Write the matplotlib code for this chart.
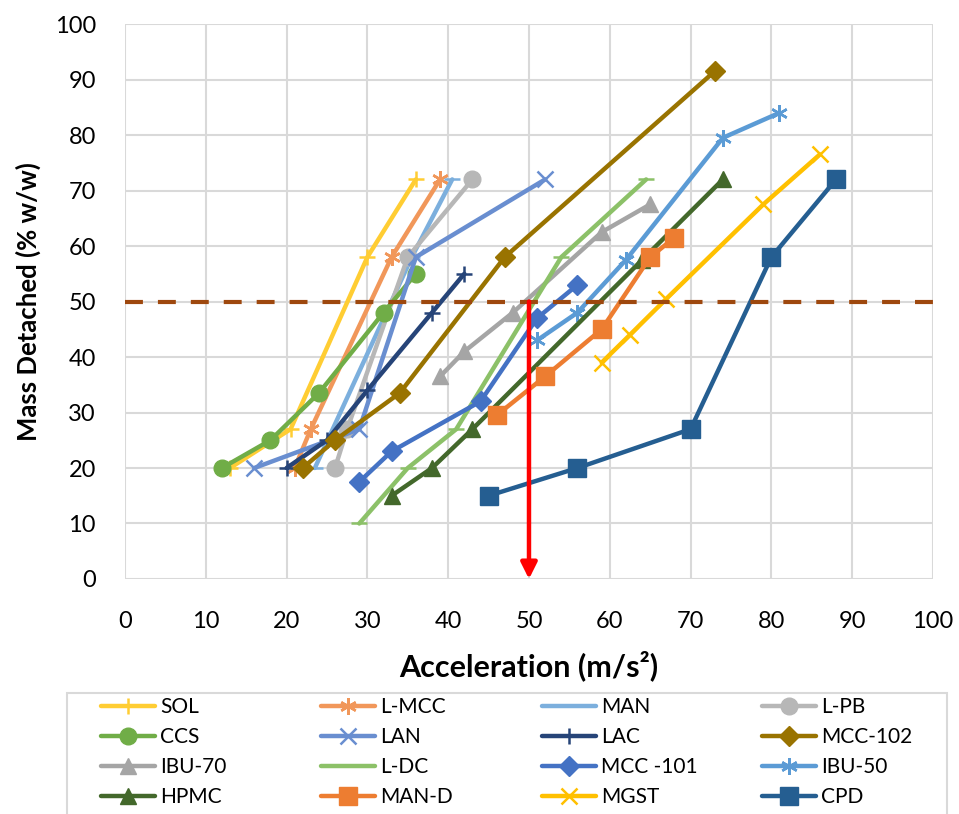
import matplotlib
matplotlib.use('Agg')
import matplotlib.pyplot as plt
from matplotlib.patches import Rectangle

# series (acceleration m/s2, mass detached % w/w)
names = ['SOL', 'L-MCC', 'MAN', 'L-PB',
         'CCS', 'LAN', 'LAC', 'MCC-102',
         'IBU-70', 'L-DC', 'MCC -101', 'IBU-50',
         'HPMC', 'MAN-D', 'MGST', 'CPD']

sol_x = [13, 20.5, 30, 36]
sol_y = [20, 27, 58, 72]
lmcc_x = [21, 23, 33, 39]
lmcc_y = [20, 27, 58, 72]
man_x = [23.5, 35.5, 40.5]
man_y = [20, 58, 72]
lpb_x = [26, 27.5, 35, 43]
lpb_y = [20, 27, 58, 72]
ccs_x = [12, 18, 24, 32, 36]
ccs_y = [20, 25, 33.5, 48, 55]
lan_x = [16, 29, 36, 52]
lan_y = [20, 27, 58, 72]
lac_x = [20, 25, 30, 38, 42]
lac_y = [20, 25, 34, 48, 55]
mcc102_x = [22, 26, 34, 47, 73]
mcc102_y = [20, 25, 33.5, 58, 91.5]
ibu70_x = [39, 42, 48, 59, 65]
ibu70_y = [36.5, 41, 48, 62.5, 67.5]
ldc_x = [29, 35, 41, 54, 64.5]
ldc_y = [10, 20, 27, 58, 72]
mcc101_x = [29, 33, 44, 51, 56]
mcc101_y = [17.5, 23, 32, 47, 53]
ibu50_x = [51, 56, 62, 74, 81]
ibu50_y = [43, 48, 57.5, 79.5, 84]
hpmc_x = [33, 38, 43, 64, 74]
hpmc_y = [15, 20, 27, 57.5, 72]
mand_x = [46, 52, 59, 65, 68]
mand_y = [29.5, 36.5, 45, 58, 61.5]
mgst_x = [59, 62.5, 67, 79, 86]
mgst_y = [39, 44, 50.5, 67.5, 76.5]
cpd_x = [45, 56, 70, 80, 88]
cpd_y = [15, 20, 27, 58, 72]

xs = [sol_x, lmcc_x, man_x, lpb_x, ccs_x, lan_x, lac_x, mcc102_x,
      ibu70_x, ldc_x, mcc101_x, ibu50_x, hpmc_x, mand_x, mgst_x, cpd_x]
ys = [sol_y, lmcc_y, man_y, lpb_y, ccs_y, lan_y, lac_y, mcc102_y,
      ibu70_y, ldc_y, mcc101_y, ibu50_y, hpmc_y, mand_y, mgst_y, cpd_y]

colors = ['#FFCD33', '#F1975A', '#7CAFDD', '#B7B7B7',
          '#70AD47', '#698ED0', '#264478', '#997300',
          '#A5A5A5', '#8CC168', '#4472C4', '#5B9BD5',
          '#43682B', '#ED7D31', '#FFC000', '#255E91']
star = (6, 2, 0)
markers = ['+', star, '_', 'o',
           'o', 'x', '+', 'D',
           '^', '_', 'D', star,
           '^', 's', 'x', 's']
sizes = [12, 12, 11, 12,
         12, 11, 11, 10,
         12, 11, 10, 12,
         12, 12.5, 12, 12.5]

threshold = 50
arrow_x = 50

plt.rcParams['font.family'] = ['Lato', 'DejaVu Sans']

fig = plt.figure(figsize=(9.59, 8.14), dpi=100)
ax = fig.add_axes([0.1303, 0.2887, 0.8426, 0.6818])

handles = []
for name, x, y, c, m, s in zip(names, xs, ys, colors, markers, sizes):
    filled = m in ('o', 'D', '^', 's')
    h, = ax.plot(x, y, color=c, lw=3.2, marker=m, markersize=s,
                 markeredgewidth=1.0 if filled else 1.8,
                 markerfacecolor=c, markeredgecolor=c, label=name,
                 solid_capstyle='round')
    handles.append(h)

ax.axhline(threshold, color='#9E480E', lw=3, ls=(0, (4.3, 3.6)), zorder=5)
ax.annotate('', xy=(arrow_x, 0), xytext=(arrow_x, threshold),
            arrowprops=dict(arrowstyle='-|>', color='#FF0000', lw=3.2,
                            mutation_scale=24, shrinkA=0, shrinkB=0),
            zorder=6)

ax.set_xlim(0, 100)
ax.set_ylim(0, 100)
ax.set_xticks(range(0, 101, 10))
ax.set_yticks(range(0, 101, 10))
ax.tick_params(length=0, labelsize=17, colors='black')
ax.tick_params(axis='y', pad=21)
ax.tick_params(axis='x', pad=23)
ax.grid(True, color='#D9D9D9', lw=1.5)
ax.set_axisbelow(True)
for sp in ax.spines.values():
    sp.set_visible(False)

ax.set_xlabel('Acceleration (m/s²)', fontsize=22, fontweight='bold', labelpad=13)
ax.set_ylabel('Mass Detached (% w/w)', fontsize=18.5, fontweight='bold', labelpad=10)

# legend: one column per legend so the column starts match the reference
col_x = [101, 321, 542, 762]
for c in range(4):
    idx = [r * 4 + c for r in range(4)]
    leg = fig.legend([handles[i] for i in idx], [names[i] for i in idx],
                     loc='upper left', bbox_to_anchor=(col_x[c] / 959, 1 - 697 / 814),
                     frameon=False, fontsize=15, handlelength=2.6,
                     handletextpad=0.25, labelspacing=0.48,
                     borderpad=0, borderaxespad=0)
fig.patches.append(Rectangle((66.7 / 959, -0.01), (947 - 66.7) / 959, 0.01 + (814 - 693) / 814,
                             transform=fig.transFigure, fill=False,
                             edgecolor='#D9D9D9', lw=1.5))

fig.savefig('out.png', dpi=100)
